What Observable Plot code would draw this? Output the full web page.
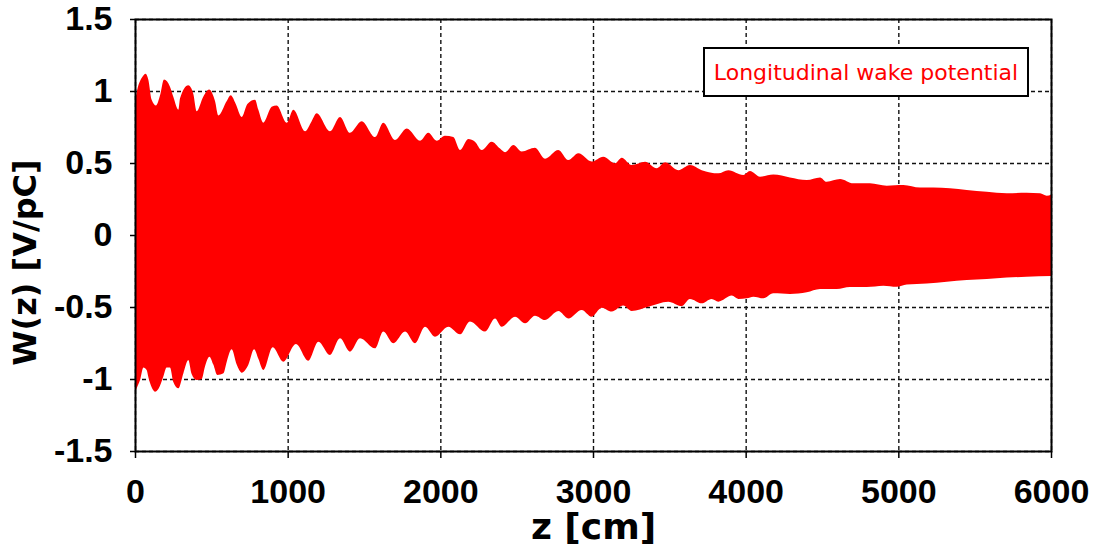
<!DOCTYPE html>
<html>
<head>
<meta charset="utf-8">
<script src="https://cdn.jsdelivr.net/npm/d3@7"></script>
<script src="https://cdn.jsdelivr.net/npm/@observablehq/plot@0.6"></script>
<style>
  html, body { margin: 0; padding: 0; background: #fff; }
  #wrap { position: relative; width: 1098px; height: 550px; }
  #legend {
    position: absolute; left: 703px; top: 47px; width: 322px; height: 46px;
    border: 2.5px solid #000; background: #fff; color: #ff0000;
    font-family: "DejaVu Sans", sans-serif; font-size: 22px;
    display: flex; align-items: center; justify-content: center; box-sizing: content-box;
  }
</style>
</head>
<body>
<div id="wrap"></div>
<script>
// Tick values
const xTicks = [0, 1000, 2000, 3000, 4000, 5000, 6000];
const yTicks = [-1.5, -1, -0.5, 0, 0.5, 1, 1.5];

// Upper envelope of the wake potential (z in cm, W in V/pC)
const upperZ = [0,15,50,70,87,109,138,164,190,229,251,284,295,349,382,404,447,485,524,546,601,627,660,699,736,786,808,840,895,928,994,1037,1114,1157,1190,1277,1343,1408,1485,1572,1626,1703,1780,1867,1921,1976,
  2030,2085,2129,2183,2227,2271,2336,2391,2424,2478,2533,2620,2686,2773,2838,2904,2991,3067,3144,3188,3253,3341,3417,3472,3559,3635,3712,3821,3886,3985,
  4028,4094,4181,4290,4400,4487,4530,4618,4705,4814,4924,5033,5142,5230,5338,5448,5579,5710,5840,5928,5972,6000];
const upperW = [0.93,1.01,1.10,1.12,1.08,0.94,0.90,0.97,1.08,1.03,0.96,0.87,0.95,1.04,0.98,0.86,0.96,1.01,0.93,0.83,0.93,0.97,0.91,0.82,0.91,0.94,0.87,0.78,0.89,0.90,0.78,0.87,0.72,0.79,0.845,0.72,0.82,0.71,0.79,0.68,0.78,0.66,0.74,0.655,0.71,0.655,
  0.69,0.68,0.59,0.667,0.648,0.59,0.648,0.60,0.574,0.625,0.58,0.606,0.53,0.59,0.52,0.567,0.51,0.544,0.498,0.537,0.486,0.509,0.463,0.505,0.45,0.486,0.45,0.428,0.45,0.417,
  0.444,0.405,0.42,0.40,0.382,0.40,0.37,0.389,0.359,0.359,0.342,0.347,0.329,0.329,0.324,0.3125,0.30,0.29,0.294,0.29,0.273,0.28];

// Lower envelope
const lowerZ = [0,11,33,55,77,88,109,131,153,185,207,229,251,284,317,349,371,404,437,458,487,513,539,579,601,633,666,699,743,780,808,840,902,971,1054,1135,1201,1277,1343,1408,1474,1572,1626,1692,1769,1834,1900,1965,
  2052,2129,2194,2293,2358,2402,2489,2555,2620,2686,2773,2838,2926,2991,3057,3122,3198,3253,3362,3493,3581,3635,3712,3777,3821,3909,3952,
  4007,4050,4116,4181,4290,4400,4487,4596,4683,4793,4902,4989,5055,5186,5317,5448,5579,5710,5840,6000];
const lowerW = [-1.10,-1.065,-1.007,-0.92,-0.94,-0.99,-1.058,-1.088,-1.07,-0.984,-0.92,-0.92,-1.02,-1.065,-0.96,-0.868,-0.965,-1.007,-1.0,-0.915,-0.845,-0.9,-0.972,-0.96,-0.88,-0.794,-0.9,-0.956,-0.9,-0.794,-0.86,-0.9375,-0.78,-0.88,-0.757,-0.873,-0.741,-0.833,-0.717,-0.81,-0.717,-0.787,-0.67,-0.752,-0.67,-0.752,-0.637,-0.706,
  -0.637,-0.69,-0.60,-0.67,-0.579,-0.637,-0.567,-0.613,-0.56,-0.59,-0.528,-0.579,-0.52,-0.567,-0.505,-0.532,-0.49,-0.528,-0.498,-0.463,-0.493,-0.444,-0.474,-0.444,-0.463,-0.421,-0.444,
  -0.44,-0.428,-0.44,-0.405,-0.41,-0.398,-0.375,-0.375,-0.361,-0.361,-0.352,-0.36,-0.343,-0.336,-0.324,-0.3125,-0.306,-0.296,-0.29,-0.285];

const seriesName = "Longitudinal wake potential";
const xLabel = "z [cm]";
const yLabel = "W(z) [V/pC]";

const upper = upperZ.map((z, i) => ({z, w: upperW[i]}));
const lower = lowerZ.map((z, i) => ({z, w: lowerW[i]}));

const tickFont = {fontFamily: "Liberation Sans, Arial, sans-serif", fontWeight: "bold", fontSize: 34};
const titleFont = {fontFamily: "DejaVu Sans, sans-serif", fontWeight: "bold"};

const chart = Plot.plot({
  width: 1098,
  height: 550,
  marginLeft: 135,
  marginRight: 47,
  marginTop: 19,
  marginBottom: 99,
  x: {domain: [0, 6000]},
  y: {domain: [-1.5, 1.5]},
  style: {background: "#fff", color: "#000", overflow: "visible"},
  marks: [
    Plot.gridX(xTicks, {stroke: "#111", strokeOpacity: 1, strokeWidth: 1.4, strokeDasharray: "4,3"}),
    Plot.gridY(yTicks, {stroke: "#111", strokeOpacity: 1, strokeWidth: 1.4, strokeDasharray: "4,3"}),
    Plot.areaY(upper, {x: "z", y1: 0, y2: "w", fill: "#ff0000", curve: "monotone-x"}),
    Plot.areaY(lower, {x: "z", y1: 0, y2: "w", fill: "#ff0000", curve: "monotone-x"}),
    Plot.frame({stroke: "#000", strokeWidth: 2}),
    Plot.axisX(xTicks, {tickSize: 7, tickPadding: 20, tickFormat: d => String(d), label: null, stroke: "#000", strokeWidth: 1.5, ...tickFont}),
    Plot.axisY(yTicks, {tickSize: 5, tickPadding: 18, tickFormat: d => String(d), label: null, stroke: "#000", strokeWidth: 1.5, ...tickFont}),
    Plot.text([xLabel], {frameAnchor: "bottom", dy: 76, lineAnchor: "middle", textAnchor: "middle", fontSize: 36, text: d => d, ...titleFont}),
    Plot.text([yLabel], {frameAnchor: "left", dx: -110, dy: 27, rotate: -90, lineAnchor: "middle", textAnchor: "middle", fontSize: 32, text: d => d, ...titleFont})
  ]
});

const wrap = document.getElementById("wrap");
wrap.appendChild(chart);
const leg = document.createElement("div");
leg.id = "legend";
leg.textContent = seriesName;
wrap.appendChild(leg);
</script>
</body>
</html>
